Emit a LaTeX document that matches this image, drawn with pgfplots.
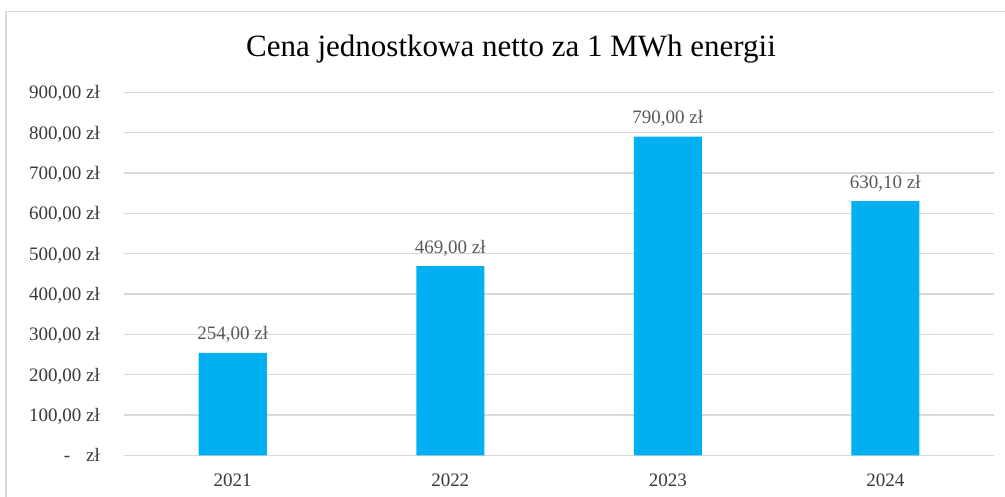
\documentclass[border=0pt]{standalone}
\usepackage{pgfplots}
\pgfplotsset{compat=1.18}
\usepackage{fontspec}
\setmainfont{Liberation Serif}
\definecolor{barc}{HTML}{00B0F0}
\definecolor{gridc}{HTML}{D9D9D9}
\definecolor{tickc}{HTML}{3A3A3A}
\definecolor{labc}{HTML}{595959}
\begin{document}
\begin{tikzpicture}
\useasboundingbox (0,0) rectangle (1005pt,496pt);
\fill[white] (0,0) rectangle (1005pt,496pt);
\draw[gridc, line width=1.5pt] (6pt,484.5pt) rectangle (1030pt,-30pt);
\node[anchor=base, inner sep=0pt, font=\fontsize{31}{35}\selectfont, text=black] at (511pt,439pt) {Cena jednostkowa netto za 1 MWh energii};
\begin{axis}[
  at={(124pt,40.7pt)}, anchor=south west,
  scale only axis, width=870pt, height=363pt,
  xmin=-0.5, xmax=3.5, ymin=0, ymax=900,
  axis x line*=bottom, axis y line*=left,
  x axis line style={gridc, line width=1.5pt},
  y axis line style={draw=none},
  ybar, bar width=68pt,
  xtick={0,1,2,3}, xticklabels={2021,2022,2023,2024},
  ytick={0,100,...,900},
  yticklabels={{-\hspace{16pt}zł},{100,00 zł},{200,00 zł},{300,00 zł},{400,00 zł},{500,00 zł},{600,00 zł},{700,00 zł},{800,00 zł},{900,00 zł}},
  ymajorgrids, grid style={gridc, line width=1.5pt},
  major tick length=0pt, tick style={draw=none},
  xticklabel style={anchor=base, inner sep=0pt, yshift=-31pt, font=\fontsize{19}{22}\selectfont, text=tickc},
  yticklabel style={anchor=base east, inner sep=0pt, xshift=-24pt, yshift=-6.5pt, font=\fontsize{19}{22}\selectfont, text=tickc},
  point meta=explicit symbolic,
  nodes near coords,
  nodes near coords style={anchor=base, inner sep=0pt, yshift=13pt, font=\fontsize{19}{22}\selectfont, text=labc},
]
\addplot[fill=barc, draw=none] coordinates {
  (0,254) [254,00 zł]
  (1,469) [469,00 zł]
  (2,790) [790,00 zł]
  (3,630.1) [630,10 zł]
};
\end{axis}
\end{tikzpicture}
\end{document}
